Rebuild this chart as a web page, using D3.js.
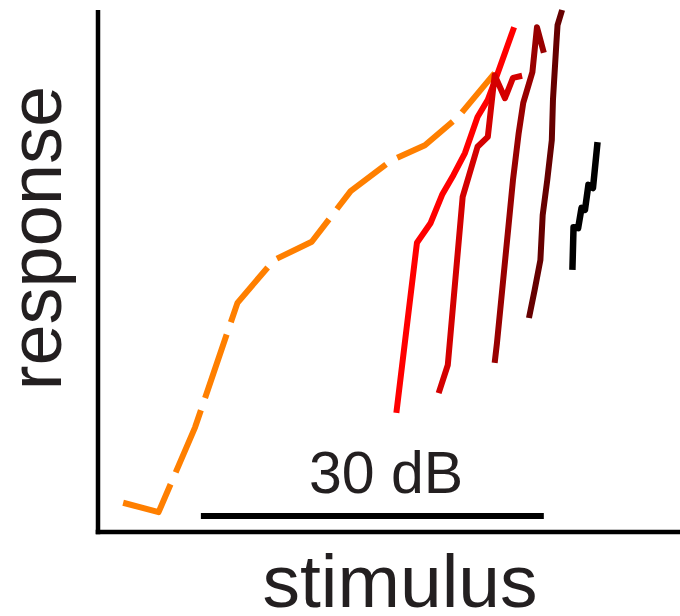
<!DOCTYPE html>
<html>
<head>
<meta charset="utf-8">
<script src="https://cdn.jsdelivr.net/npm/d3@7"></script>
<style>
  html, body { margin: 0; padding: 0; background: #fff; }
  svg { display: block; }
</style>
</head>
<body>
<svg id="chart" width="680" height="616"></svg>
<script>
// Stimulus level in dB, response in arbitrary units (0–100).
const orangeX = [3.2, 6.3, 9.5, 13.2, 16.4, 19.7, 23.1, 26.6, 29.6, 32.5, 35.7];
const orangeY = [5.6, 3.8, 20.1, 43.9, 52.1, 55.6, 65.3, 71.1, 74.1, 79.5, 87.9];

const red1X = [27.1, 28.9, 30.1, 31.1, 32.1, 33.1, 34.2, 35.1, 35.9, 37.4];
const red1Y = [22.8, 55.4, 59.2, 64.6, 68.4, 72.6, 79.5, 82.8, 87.5, 96.7];

const red2X = [30.8, 31.6, 32.9, 34.2, 35.1, 35.7, 36.6, 37.3, 38.1];
const red2Y = [26.6, 32.0, 64.2, 73.8, 75.7, 87.5, 83.1, 87.0, 87.4];

const red3X = [35.7, 35.9, 36.9, 37.3, 37.8, 38.2, 39.0, 39.4, 40.0];
const red3Y = [32.4, 36.2, 58.4, 67.4, 76.4, 82.2, 88.1, 96.7, 91.8];

const red4X = [38.7, 39.2, 39.7, 39.9, 40.3, 40.7, 40.8, 41.1, 41.2, 41.6];
const red4Y = [41.0, 46.4, 52.1, 60.7, 67.4, 75.1, 82.8, 93.7, 97.1, 100.0];

const blackX = [42.5, 42.6, 43.0, 43.3, 43.6, 43.9, 44.3, 44.7];
const blackY = [50.2, 58.4, 58.2, 62.1, 61.7, 66.5, 65.9, 74.7];

const seriesNames = ["orange", "red1", "red2", "red3", "red4", "black"];
const seriesColors = ["#ff7f00", "#ff0000", "#d40000", "#990000", "#660000", "#000000"];

// Scale bar spans 30 dB
const barStart = 10, barEnd = 40;
const barLabel = "30 dB";
const xLabel = "stimulus";
const yLabel = "response";

const svg = d3.select("#chart");

const x = d3.scaleLinear().domain([1, 52]).range([98, 681]);
const y = d3.scaleLinear().domain([0, 100]).range([532, 10]);

const series = [
  { xs: orangeX, ys: orangeY },
  { xs: red1X, ys: red1Y },
  { xs: red2X, ys: red2Y },
  { xs: red3X, ys: red3Y },
  { xs: red4X, ys: red4Y },
  { xs: blackX, ys: blackY }
].map((s, i) => ({
  name: seriesNames[i],
  color: seriesColors[i],
  pts: s.xs.map((v, j) => [v, s.ys[j]])
}));

const line = d3.line().x(d => x(d[0])).y(d => y(d[1]));

// Axes: bare spines, no ticks
svg.append("line")
  .attr("x1", x(1)).attr("x2", x(1))
  .attr("y1", y(100)).attr("y2", y(0) + 2.3)
  .attr("stroke", "#000").attr("stroke-width", 4.5);
svg.append("line")
  .attr("x1", x(1) - 2.3).attr("x2", 680)
  .attr("y1", y(0)).attr("y2", y(0))
  .attr("stroke", "#000").attr("stroke-width", 4.5);

// Curves
svg.append("g").selectAll("path")
  .data(series)
  .join("path")
  .attr("d", d => line(d.pts))
  .attr("fill", "none")
  .attr("stroke", d => d.color)
  .attr("stroke-width", d => d.name === "black" ? 6.5 : 6)
  .attr("stroke-linejoin", "round")
  .attr("stroke-dasharray", d => d.name === "orange" ? "67,13" : null);

// Scale bar
svg.append("line")
  .attr("x1", x(barStart)).attr("x2", x(barEnd))
  .attr("y1", 516).attr("y2", 516)
  .attr("stroke", "#000").attr("stroke-width", 6);

svg.append("text")
  .attr("x", 386)
  .attr("y", 493)
  .attr("text-anchor", "middle")
  .attr("font-family", "Liberation Sans, Arial, Helvetica, sans-serif")
  .attr("font-size", 59)
  .attr("fill", "#231f20")
  .text(barLabel);

// Axis titles
svg.append("text")
  .attr("x", 400)
  .attr("y", 607)
  .attr("text-anchor", "middle")
  .attr("font-family", "Liberation Sans, Arial, Helvetica, sans-serif")
  .attr("font-size", 75)
  .attr("fill", "#231f20")
  .text(xLabel);

svg.append("text")
  .attr("transform", "translate(61,238) rotate(-90)")
  .attr("text-anchor", "middle")
  .attr("font-family", "Liberation Sans, Arial, Helvetica, sans-serif")
  .attr("font-size", 74)
  .attr("fill", "#231f20")
  .text(yLabel);
</script>
</body>
</html>
